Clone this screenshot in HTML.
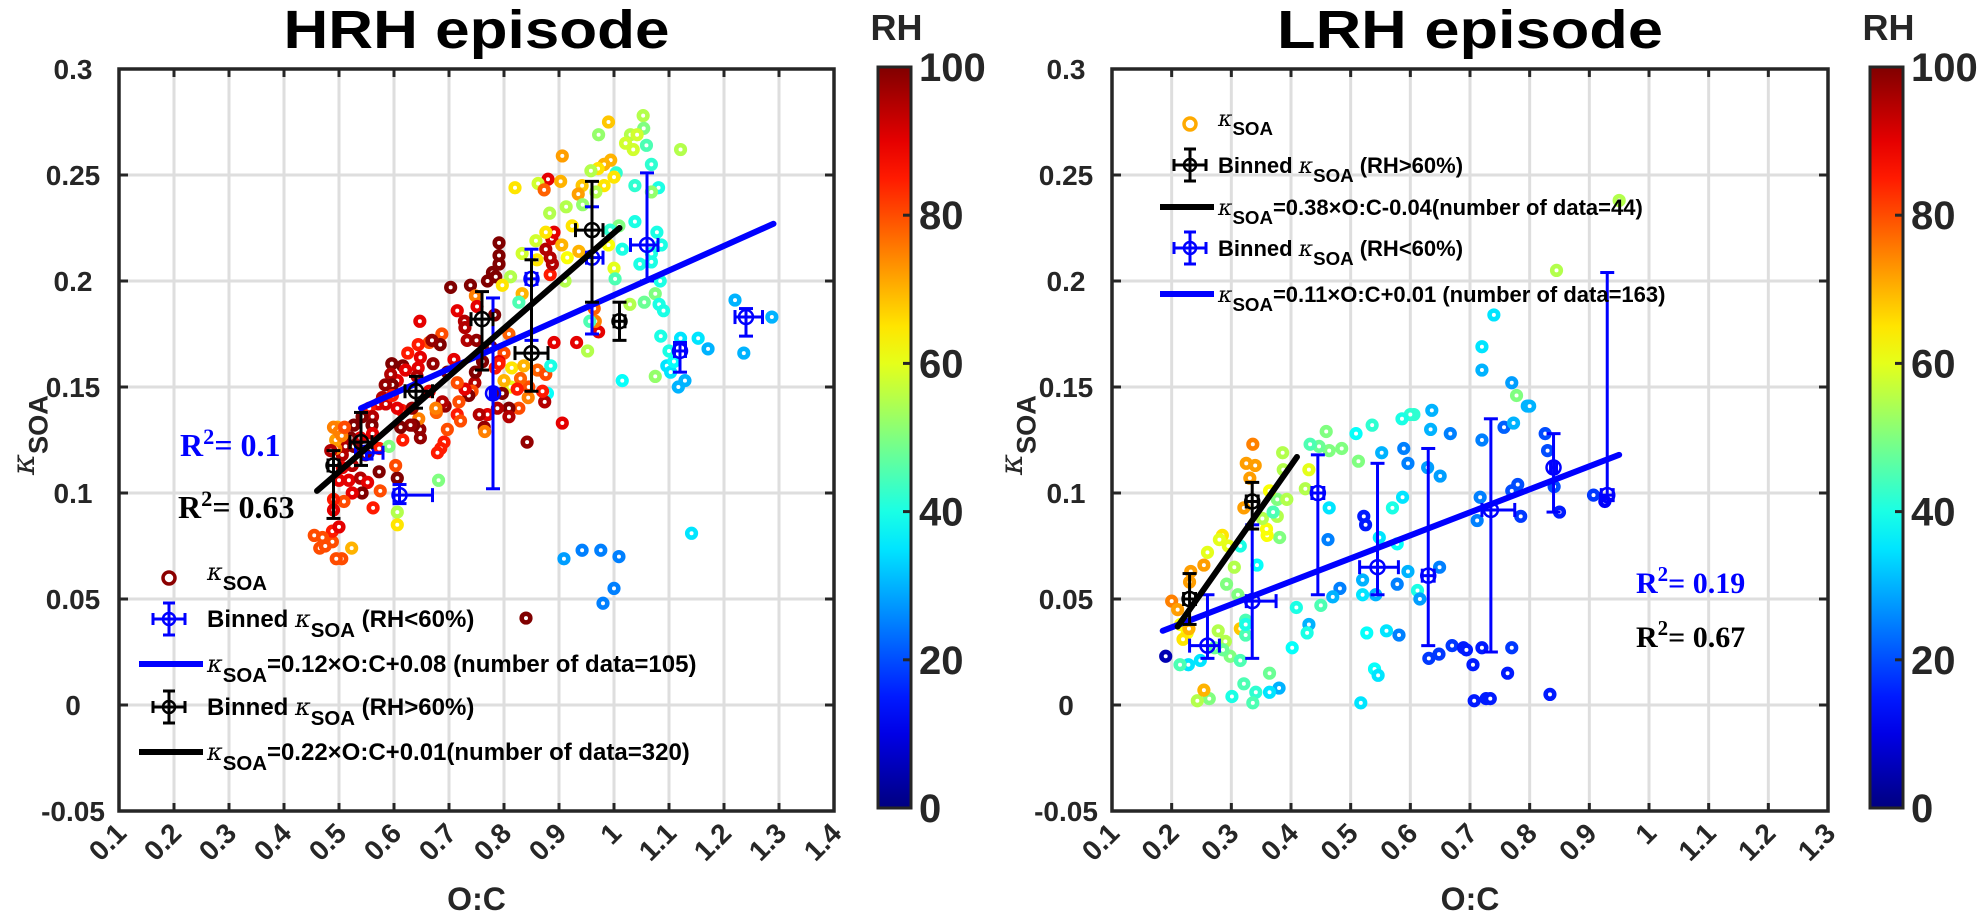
<!DOCTYPE html>
<html><head><meta charset="utf-8"><style>
html,body{margin:0;padding:0;background:#fff}
svg{display:block;font-family:"Liberation Sans",sans-serif}
</style></head><body>
<svg id="chart" width="1984" height="915" viewBox="0 0 1984 915" xmlns="http://www.w3.org/2000/svg">
<rect width="1984" height="915" fill="#fff"/>
</svg>
<script>
const NS="http://www.w3.org/2000/svg";
// ---------- DATA ----------
const xTicksHRH=[0.1,0.2,0.3,0.4,0.5,0.6,0.7,0.8,0.9,1,1.1,1.2,1.3,1.4];
const xTicksLRH=[0.1,0.2,0.3,0.4,0.5,0.6,0.7,0.8,0.9,1,1.1,1.2,1.3];
const yTicks=[0.3,0.25,0.2,0.15,0.1,0.05,0,-0.05];
const yTickLabels=["0.3","0.25","0.2","0.15","0.1","0.05","0","-0.05"];
const cbTicks=[0,20,40,60,80,100];
// HRH scatter [O:C, kappa, RH]
const hrhPts=[[1.053,.278,55],[.99,.275,68],[1.054,.272,50],[.972,.269,52],[1.03,.269,55],[1.042,.269,58],[1.021,.265,58],[1.035,.262,58],[1.059,.264,45],[1.121,.262,55],[1.068,.255,42],[.906,.259,72],[.994,.257,70],[.982,.255,70],[.971,.253,65],[.958,.252,55],[1.004,.251,42],[1.0,.249,65],[.88,.248,90],[.903,.247,70],[.82,.244,65],[.862,.246,58],[.873,.243,78],[.942,.245,68],[.982,.245,65],[.935,.241,72],[.967,.242,55],[1.038,.245,42],[1.081,.244,40],[1.068,.242,52],[.913,.235,55],[.943,.236,52],[.883,.232,55],[1.038,.228,40],[1.009,.226,50],[.924,.226,65],[.993,.224,42],[1.078,.223,40],[1.086,.217,40],[1.015,.215,40],[1.068,.213,40],[1.047,.208,40],[1.068,.209,40],[1.0,.206,60],[1.002,.201,45],[1.084,.2,40],[1.075,.194,50],[1.055,.19,48],[1.029,.189,55],[1.082,.189,40],[1.09,.186,40],[.911,.2,55],[.812,.202,55],[.884,.203,85],[.888,.208,95],[.884,.211,95],[.876,.215,95],[.887,.22,92],[.891,.223,90],[.86,.21,65],[.833,.213,58],[.858,.219,58],[.915,.211,62],[.876,.223,65],[.905,.217,70],[.936,.214,70],[.99,.217,62],[.791,.218,100],[.791,.212,100],[.791,.208,100],[.779,.204,100],[.77,.2,100],[.785,.202,100],[.739,.198,100],[.703,.197,100],[.797,.198,65],[.833,.194,70],[.827,.19,45],[.748,.193,75],[.751,.188,90],[.728,.181,95],[.715,.186,90],[.783,.184,100],[.729,.178,95],[.647,.181,90],[.687,.175,80],[.664,.171,80],[.684,.17,100],[.669,.172,98],[.644,.17,85],[.733,.172,95],[.75,.172,98],[.809,.175,78],[.8,.166,80],[.784,.159,85],[.791,.162,90],[.814,.159,65],[.891,.171,90],[.932,.171,90],[.972,.176,90],[.966,.181,75],[.956,.181,45],[.964,.187,78],[.952,.167,55],[1.085,.174,40],[1.075,.155,52],[1.015,.153,38],[1.121,.173,35],[1.153,.173,35],[1.171,.168,30],[1.1,.167,40],[1.096,.16,35],[1.103,.157,35],[1.109,.162,38],[1.129,.153,30],[1.117,.15,30],[1.22,.191,30],[1.287,.183,30],[1.236,.166,30],
[.812,.15,60],[.844,.145,75],[.879,.147,38],[.874,.143,95],[.87,.148,85],[.845,.15,80],[.836,.16,70],[.861,.158,78],[.876,.156,80],[.885,.16,40],[.83,.154,78],[.824,.149,85],[.827,.14,80],[.809,.14,100],[.809,.136,95],[.788,.14,95],[.77,.137,90],[.755,.137,95],[.764,.131,98],[.765,.129,75],[.797,.147,100],[.8,.153,70],[.791,.161,85],[.776,.169,100],[.761,.162,100],[.747,.152,95],[.748,.157,100],[.742,.148,80],[.736,.146,100],[.729,.149,90],[.715,.152,80],[.718,.143,80],[.715,.137,85],[.721,.134,80],[.693,.141,98],[.688,.143,95],[.677,.138,78],[.676,.14,75],[.697,.13,80],[.691,.124,85],[.685,.121,85],[.679,.119,85],[.647,.13,98],[.648,.126,98],[.645,.135,75],[.636,.132,100],[.63,.132,98],[.616,.125,85],[.612,.131,100],[.614,.139,85],[.606,.14,90],[.633,.14,98],[.671,.161,98],[.644,.159,90],[.648,.164,90],[.625,.166,85],[.616,.16,100],[.596,.161,100],[.606,.153,90],[.594,.156,95],[.597,.151,100],[.584,.151,98],[.579,.145,95],[.572,.142,90],[.585,.142,92],[.597,.146,85],[.621,.158,90],[.642,.155,95],[.709,.163,90],[.697,.157,100],[.664,.148,90],[.555,.14,85],[.561,.136,95],[.56,.132,100],[.542,.136,100],[.527,.132,100],[.561,.128,90],[.573,.121,85],[.548,.118,100],[.539,.126,90],[.521,.126,100],[.512,.122,95],[.527,.122,100],[.506,.118,95],[.494,.121,75],[.494,.125,72],[.497,.131,72],[.506,.112,90],[.524,.113,95],[.518,.106,90],[.539,.107,95],[.552,.105,90],[.542,.1,100],[.524,.1,90],[.509,.096,80],[.573,.11,100],[.606,.107,100],[.603,.113,80],[.575,.101,80],[.562,.093,85],[.505,.069,80],[.523,.074,70],[.488,.077,80],[.606,.091,55],[.606,.085,65],[.681,.106,50],[.591,.122,50],[.906,.133,90],[.842,.124,98],[.909,.069,28],[.942,.073,25],[.976,.073,25],[1.009,.07,25],[1.141,.081,35],[.98,.048,25],[1.0,.055,25],[.84,.041,100],
[.455,.08,80],[.465,.074,80],[.475,.075,80],[.488,.082,85],[.495,.069,80],[.47,.079,80],[.49,.097,85],[.49,.092,90],[.5,.084,90],[.49,.131,75],[.5,.129,75],[.505,.127,75],[.485,.12,95],[.5,.106,90],[.51,.131,80]];
// HRH binned
const hrhBinHiX=[0.49,0.54,0.64,0.76,0.85,0.96,1.01];
const hrhBinHiY=[0.113,0.124,0.148,0.182,0.166,0.224,0.181];
const hrhBinHiYlo=[0.088,0.113,0.140,0.158,0.148,0.190,0.172];
const hrhBinHiYhi=[0.120,0.138,0.155,0.195,0.210,0.247,0.190];
const hrhBinHiXlo=[0.48,0.52,0.62,0.74,0.82,0.93,1.0];
const hrhBinHiXhi=[0.50,0.56,0.67,0.78,0.88,0.98,1.02];
const hrhBinLoX=[0.55,0.61,0.78,0.85,0.96,1.06,1.12,1.24];
const hrhBinLoY=[0.119,0.099,0.147,0.201,0.211,0.217,0.167,0.183];
const hrhBinLoYlo=[0.116,0.095,0.102,0.172,0.175,0.200,0.157,0.174];
const hrhBinLoYhi=[0.122,0.104,0.192,0.215,0.235,0.251,0.171,0.187];
const hrhBinLoXlo=[0.53,0.60,0.775,0.84,0.95,1.03,1.11,1.22];
const hrhBinLoXhi=[0.58,0.67,0.785,0.86,0.98,1.08,1.13,1.27];
const hrhFitBlueX=[0.54,1.29], hrhFitBlueY=[0.140,0.227];
const hrhFitBlackX=[0.46,1.01], hrhFitBlackY=[0.101,0.225];
// LRH scatter
const lrhPts=[[.72,.169,35],[.72,.158,30],[.77,.152,28],[.778,.146,50],[.796,.141,30],[.636,.139,30],[.606,.137,42],[.6,.137,42],[.586,.135,40],[.536,.132,42],[.509,.128,38],[.459,.129,50],[.485,.121,50],[.464,.12,50],[.447,.122,48],[.432,.123,45],[.634,.13,30],[.667,.128,25],[.757,.131,22],[.773,.133,30],[.72,.125,25],[.826,.128,20],[.83,.12,20],[.589,.121,25],[.552,.119,30],[.513,.115,50],[.596,.114,25],[.629,.112,28],[.65,.108,28],[.78,.104,20],[.77,.101,20],[.841,.103,20],[.907,.099,18],[.926,.096,12],[.587,.098,35],[.57,.093,40],[.464,.093,35],[.717,.098,25],[.712,.087,25],[.785,.089,18],[.85,.091,15],[.522,.089,15],[.525,.085,15],[.548,.079,35],[.578,.076,38],[.462,.078,25],[.343,.066,38],[.649,.065,25],[.596,.063,30],[.578,.057,25],[.612,.054,40],[.616,.05,28],[.52,.059,30],[.482,.055,25],[.47,.051,30],[.52,.052,35],[.542,.052,30],[.45,.047,45],[.409,.046,40],[.43,.038,30],[.427,.034,40],[.402,.027,38],[.527,.034,38],[.56,.035,35],[.581,.033,25],[.67,.028,18],[.648,.024,18],[.631,.022,18],[.689,.027,15],[.694,.026,15],[.72,.027,15],[.77,.027,18],[.705,.019,15],[.763,.015,15],[.54,.017,38],[.546,.014,35],[.834,.005,15],[.707,.002,15],[.727,.003,15],[.734,.003,15],[.517,.001,35],[.38,.008,30],[.364,.006,35],[.341,.006,42],[.321,.01,45],[.364,.015,48],[.336,.001,45],[.301,.004,40],[.263,.003,50],[.243,.002,55],[.254,.007,70],[.228,.019,35],[.214,.019,45],[.248,.021,35],[.298,.023,50],[.315,.021,45],[.19,.023,5],[.29,.03,55],[.278,.035,55],[.324,.04,45],[.315,.036,68],[.324,.033,45],[.324,.038,40],[.311,.052,50],[.292,.057,50],[.305,.065,55],[.315,.075,40],[.381,.079,50],[.36,.08,62],[.359,.083,62],[.377,.089,55],[.352,.088,55],[.37,.091,45],[.377,.097,50],[.393,.097,55],[.364,.101,62],[.424,.102,55],[.43,.111,60],[.387,.111,55],[.386,.119,55],[.34,.113,72],[.325,.114,72],[.336,.123,75],[.331,.107,72],[.321,.093,72],[.285,.08,65],[.28,.078,60],[.26,.072,60],[.295,.075,60],[.254,.066,72],[.232,.063,72],[.23,.058,72],[.2,.049,75],[.21,.045,72],[.215,.038,62],[.226,.034,62],[.219,.031,65],[.229,.036,70],[.272,.027,48],[.286,.026,48],[.95,.238,55],[.845,.205,55],[.74,.184,35],[.8,.141,30]];
const lrhBinHiX=[0.23,0.335], lrhBinHiY=[0.050,0.096];
const lrhBinHiYlo=[0.038,0.083], lrhBinHiYhi=[0.062,0.105];
const lrhBinHiXlo=[0.22,0.325], lrhBinHiXhi=[0.24,0.345];
const lrhBinLoX=[0.26,0.335,0.445,0.545,0.63,0.735,0.84,0.93];
const lrhBinLoY=[0.028,0.049,0.100,0.065,0.061,0.092,0.112,0.099];
const lrhBinLoYlo=[0.022,0.022,0.052,0.052,0.028,0.025,0.091,0.097];
const lrhBinLoYhi=[0.052,0.085,0.118,0.114,0.121,0.135,0.128,0.204];
const lrhBinLoXlo=[0.23,0.325,0.435,0.515,0.62,0.72,0.835,0.92];
const lrhBinLoXhi=[0.28,0.375,0.455,0.58,0.64,0.775,0.845,0.94];
const lrhFitBlueX=[0.185,0.95], lrhFitBlueY=[0.035,0.118];
const lrhFitBlackX=[0.21,0.41], lrhFitBlackY=[0.037,0.117];

// ---------- HELPERS ----------
const svg=document.getElementById('chart');
function el(tag,attrs,parent){const e=document.createElementNS(NS,tag);for(const k in attrs)e.setAttribute(k,attrs[k]);(parent||svg).appendChild(e);return e;}
function jet(v){const t=Math.max(0,Math.min(1,v/100));const c=x=>Math.round(255*Math.max(0,Math.min(1,1.5-Math.abs(4*t-x))));return `rgb(${c(3)},${c(2)},${c(1)})`;}
function kappa(parent,x,y,size,sub,rest,color,anchor){
  const t=el('text',{x:x,y:y,'font-size':size,'font-weight':'bold',fill:color||'#000','text-anchor':anchor||'start'},parent);
  const k=el('tspan',{'font-style':'italic','font-weight':'normal','font-family':'"DejaVu Serif",serif'},t);k.textContent='κ';
  const s=el('tspan',{dy:size*0.42,'font-size':size*0.85},t);s.textContent=sub;
  if(rest){const r=el('tspan',{dy:-size*0.42},t);r.textContent=rest;}
  return t;
}
function errbar(g,sx,sy,x,y,ylo,yhi,xlo,xhi,color){
  const cx=sx(x),cy=sy(y);
  el('line',{x1:cx,x2:cx,y1:sy(ylo),y2:sy(yhi),stroke:color,'stroke-width':3},g);
  el('line',{x1:cx-7,x2:cx+7,y1:sy(ylo),y2:sy(ylo),stroke:color,'stroke-width':3},g);
  el('line',{x1:cx-7,x2:cx+7,y1:sy(yhi),y2:sy(yhi),stroke:color,'stroke-width':3},g);
  el('line',{x1:sx(xlo),x2:sx(xhi),y1:cy,y2:cy,stroke:color,'stroke-width':3},g);
  el('line',{x1:sx(xlo),x2:sx(xlo),y1:cy-7,y2:cy+7,stroke:color,'stroke-width':3},g);
  el('line',{x1:sx(xhi),x2:sx(xhi),y1:cy-7,y2:cy+7,stroke:color,'stroke-width':3},g);
  el('circle',{cx:cx,cy:cy,r:7,fill:'none',stroke:color,'stroke-width':2.5},g);
}

function panel(cfg){
  const {x0,x1,y0,y1,xmin,xmax,xticks,name}=cfg;
  const sx=v=>x0+(v-xmin)/(xmax-xmin)*(x1-x0);
  const sy=v=>y1-(v+0.05)/0.35*(y1-y0);
  const g=el('g',{});
  
  
  const grid=el('g',{},g);
  
  
  xticks.forEach(v=>{if(v>xmin&&v<xmax)el('line',{x1:sx(v),x2:sx(v),y1:y0,y2:y1,stroke:'#dedede','stroke-width':3},grid);});
  yTicks.forEach(v=>{if(v>-0.05&&v<0.3)el('line',{x1:x0,x2:x1,y1:sy(v),y2:sy(v),stroke:'#dedede','stroke-width':3},grid);});
  const sc=el('g',{},g);
  
  
  cfg.pts.forEach(p=>{const c=el('circle',{cx:sx(p[0]),cy:sy(p[1]),r:4.3,fill:'#fff',stroke:jet(p[2]),'stroke-width':4.6},sc);
    
    });
  const drawBins=(X,Y,Ylo,Yhi,Xlo,Xhi,color,nm)=>{const bg=el('g',{},g);
    
    
    X.forEach((x,i)=>errbar(bg,sx,sy,x,Y[i],Ylo[i],Yhi[i],Xlo[i],Xhi[i],color));};
  const drawFit=(X,Y,color,nm)=>{const l=el('line',{x1:sx(X[0]),y1:sy(Y[0]),x2:sx(X[1]),y2:sy(Y[1]),stroke:color,'stroke-width':6,'stroke-linecap':'round'},g);
    
    };
  cfg.order.forEach(f=>f(drawBins,drawFit));
  const ax=el('rect',{x:x0,y:y0,width:x1-x0,height:y1-y0,fill:'none',stroke:'#262626','stroke-width':3.5},g);
  
  
  xticks.forEach((v,i)=>{const X=sx(v);
    el('line',{x1:X,x2:X,y1:y1,y2:y1-8,stroke:'#262626','stroke-width':3},g);
    el('line',{x1:X,x2:X,y1:y0,y2:y0+8,stroke:'#262626','stroke-width':3},g);
    const t=el('text',{transform:`translate(${X+9},${y1+24}) rotate(-45)`,'text-anchor':'end','font-size':28,'font-weight':'bold',fill:'#262626'},g);
    t.textContent=String(v);
    
    });
  yTicks.forEach((v,i)=>{const Y=sy(v);
    el('line',{x1:x0,x2:x0+9,y1:Y,y2:Y,stroke:'#262626','stroke-width':3},g);
    el('line',{x1:x1,x2:x1-9,y1:Y,y2:Y,stroke:'#262626','stroke-width':3},g);
    const t=el('text',{x:x0-46,y:Y+10,'text-anchor':'middle','font-size':28,'font-weight':'bold',fill:'#262626'},g);
    t.textContent=yTickLabels[i];
    
    });
  const ti=el('text',{x:(x0+x1)/2,y:48,'text-anchor':'middle','font-size':54,'font-weight':'bold',textLength:386,lengthAdjust:'spacingAndGlyphs'},g);
  ti.textContent=cfg.title;
  
  
  const xl=el('text',{x:(x0+x1)/2,y:910,'text-anchor':'middle','font-size':32,'font-weight':'bold',fill:'#262626'},g);
  xl.textContent='O:C';
  
  
  const yg=el('g',{transform:`translate(${cfg.ylabX},475) rotate(-90)`},g);
  
  
  kappa(yg,0,0,32,'SOA','','#262626','start');
  const cb=el('g',{},g);
  
  
  const gid='jetgrad'+name;
  const defs=el('defs',{},cb);const lg=el('linearGradient',{id:gid,x1:0,y1:1,x2:0,y2:0},defs);
  for(let i=0;i<=20;i++){el('stop',{offset:i/20,'stop-color':jet(i*5)},lg);}
  const cbx=cfg.cbx,cbw=33,cby0=67,cby1=808;
  el('rect',{x:cbx,y:cby0,width:cbw,height:cby1-cby0,fill:`url(#${gid})`,stroke:'#262626','stroke-width':3},cb);
  cbTicks.forEach(v=>{const Y=cby1-v/100*(cby1-cby0);
    if(v>0&&v<100)el('line',{x1:cbx+cbw-8,x2:cbx+cbw,y1:Y,y2:Y,stroke:'#262626','stroke-width':3},cb);
    const t=el('text',{x:cbx+cbw+8,y:Y+14,'font-size':40,'font-weight':'bold',fill:'#262626'},cb);t.textContent=v;
    
    });
  const rh=el('text',{x:cbx+cbw/2+2,y:40,'text-anchor':'middle','font-size':36,'font-weight':'bold',fill:'#262626'},cb);rh.textContent='RH';
  
  
  return {sx,sy,g};
}

const L=panel({name:'hrh',title:'HRH episode',x0:119,x1:834,y0:69,y1:811,xmin:0.1,xmax:1.4,xticks:xTicksHRH,pts:hrhPts,ylabX:34,cbx:878,
 order:[(b,f)=>f(hrhFitBlueX,hrhFitBlueY,'#0000ff','hrh-fit-line-rh-below-60'),
        (b,f)=>b(hrhBinLoX,hrhBinLoY,hrhBinLoYlo,hrhBinLoYhi,hrhBinLoXlo,hrhBinLoXhi,'#0000ff','hrh-binned-rh-below-60'),
        (b,f)=>f(hrhFitBlackX,hrhFitBlackY,'#000','hrh-fit-line-rh-above-60'),
        (b,f)=>b(hrhBinHiX,hrhBinHiY,hrhBinHiYlo,hrhBinHiYhi,hrhBinHiXlo,hrhBinHiXhi,'#000','hrh-binned-rh-above-60')]});
const R=panel({name:'lrh',title:'LRH episode',x0:1112,x1:1828,y0:69,y1:811,xmin:0.1,xmax:1.3,xticks:xTicksLRH,pts:lrhPts,ylabX:1022,cbx:1870,
 order:[(b,f)=>f(lrhFitBlueX,lrhFitBlueY,'#0000ff','lrh-fit-line-rh-below-60'),
        (b,f)=>b(lrhBinLoX,lrhBinLoY,lrhBinLoYlo,lrhBinLoYhi,lrhBinLoXlo,lrhBinLoXhi,'#0000ff','lrh-binned-rh-below-60'),
        (b,f)=>f(lrhFitBlackX,lrhFitBlackY,'#000','lrh-fit-line-rh-above-60'),
        (b,f)=>b(lrhBinHiX,lrhBinHiY,lrhBinHiYlo,lrhBinHiYhi,lrhBinHiXlo,lrhBinHiXhi,'#000','lrh-binned-rh-above-60')]});

function r2(x,y,val,color,nm,size){const t=el('text',{x:x,y:y,'font-family':'"Liberation Serif",serif','font-size':size,'font-weight':'bold',fill:color});
  
  
  const a=el('tspan',{},t);a.textContent='R';const b=el('tspan',{dy:-12,'font-size':size*0.7},t);b.textContent='2';
  const c=el('tspan',{dy:12},t);c.textContent='= '+val;}
r2(180,456,'0.1','#0000ff','hrh-r2-blue',32);
r2(178,518,'0.63','#000','hrh-r2-black',32);
r2(1636,593,'0.19','#0000ff','lrh-r2-blue',30);
r2(1636,647,'0.67','#000','lrh-r2-black',30);

function legend(nm,mx,tx,rows,size,items){
  const g=el('g',{});
  
  
  items.forEach((it,i)=>{const y=rows[i];
    const e=el('g',{},g);
    
    
    if(it.type==='pt')el('circle',{cx:mx,cy:y,r:6,fill:'#fff',stroke:it.color,'stroke-width':3.5},e);
    else if(it.type==='bin'){el('line',{x1:mx,x2:mx,y1:y-16,y2:y+16,stroke:it.color,'stroke-width':3},e);
      el('line',{x1:mx-6,x2:mx+6,y1:y-16,y2:y-16,stroke:it.color,'stroke-width':3},e);
      el('line',{x1:mx-6,x2:mx+6,y1:y+16,y2:y+16,stroke:it.color,'stroke-width':3},e);
      el('line',{x1:mx-16,x2:mx+16,y1:y,y2:y,stroke:it.color,'stroke-width':3},e);
      el('line',{x1:mx-16,x2:mx-16,y1:y-6,y2:y+6,stroke:it.color,'stroke-width':3},e);
      el('line',{x1:mx+16,x2:mx+16,y1:y-6,y2:y+6,stroke:it.color,'stroke-width':3},e);
      el('circle',{cx:mx,cy:y,r:6,fill:'none',stroke:it.color,'stroke-width':2.5},e);}
    else el('line',{x1:mx-30,x2:tx-4,y1:y,y2:y,stroke:it.color,'stroke-width':6},e);
    if(it.pre){const t=el('text',{x:tx,y:y+8,'font-size':size,'font-weight':'bold'},e);
      const a=el('tspan',{},t);a.textContent=it.pre+' ';
      const k=el('tspan',{'font-style':'italic','font-weight':'normal','font-family':'"DejaVu Serif",serif'},t);k.textContent='κ';
      const s=el('tspan',{dy:size*0.42,'font-size':size*0.85},t);s.textContent='SOA';
      const r=el('tspan',{dy:-size*0.42},t);r.textContent=' '+it.rest;}
    else kappa(e,tx,y+(it.type==='pt'?2:8),size,'SOA',it.rest,'#000','start');
  });
}
legend('hrh-legend',169,207,[578,619,664,707,752],24,[
 {type:'pt',color:'#8b0000',rest:''},
 {type:'bin',color:'#0000ff',pre:'Binned',rest:'(RH<60%)'},
 {type:'line',color:'#0000ff',rest:'=0.12×O:C+0.08 (number of data=105)'},
 {type:'bin',color:'#000',pre:'Binned',rest:'(RH>60%)'},
 {type:'line',color:'#000',rest:'=0.22×O:C+0.01(number of data=320)'}]);
legend('lrh-legend',1190,1218,[124,165,207,248,294],22,[
 {type:'pt',color:'#ffaa00',rest:''},
 {type:'bin',color:'#000',pre:'Binned',rest:'(RH>60%)'},
 {type:'line',color:'#000',rest:'=0.38×O:C-0.04(number of data=44)'},
 {type:'bin',color:'#0000ff',pre:'Binned',rest:'(RH<60%)'},
 {type:'line',color:'#0000ff',rest:'=0.11×O:C+0.01 (number of data=163)'}]);
</script>
</body></html>
